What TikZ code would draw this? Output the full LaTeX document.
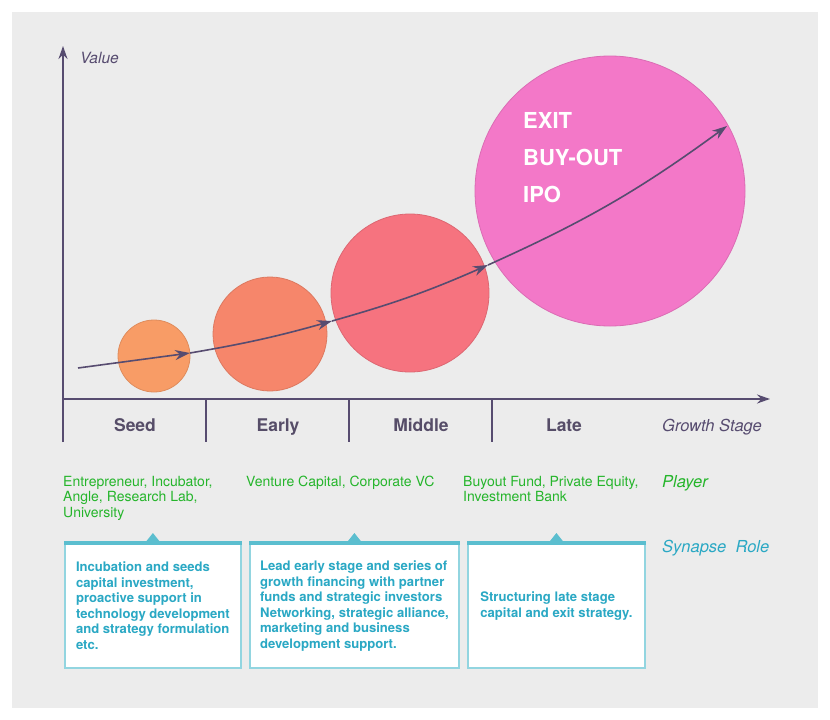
\documentclass[tikz,border=0pt]{standalone}
\usepackage{fontspec}
\setmainfont{TeX Gyre Heros}
\usetikzlibrary{positioning,arrows.meta}
\definecolor{panelgrey}{HTML}{ECECEC}
\definecolor{inkpurple}{HTML}{574C70}
\definecolor{stagegrey}{HTML}{564D68}
\definecolor{playergreen}{HTML}{25B52B}
\definecolor{roleteal}{HTML}{2AA8C4}
\definecolor{boxedge}{HTML}{92D5E0}
\definecolor{boxtop}{HTML}{5BBECF}
\definecolor{seedorange}{HTML}{F89C66}
\definecolor{earlysalmon}{HTML}{F6866B}
\definecolor{midrose}{HTML}{F6737F}
\definecolor{latepink}{HTML}{F378C8}
\tikzset{
  bub/.style={circle, fill=#1, draw=#1!90!black, line width=0.8pt, inner sep=0pt},
  axisline/.style={-{Stealth[length=13pt,width=9pt]}, line width=1.8pt, draw=inkpurple},
  divider/.style={line width=1.8pt, draw=inkpurple},
  flow/.style={-{Stealth[length=15pt,width=10pt]}, line width=1.6pt, draw=inkpurple},
  stage/.style={font=\fontsize{17.5}{20}\selectfont\bfseries, color=stagegrey, anchor=base, inner sep=0pt},
  axlbl/.style={font=\fontsize{16.5}{19}\selectfont\itshape, color=#1, anchor=base west, inner sep=0pt},
  player/.style={font=\fontsize{14}{15.5}\selectfont, color=playergreen, align=left,
                 anchor=north west, inner sep=0pt},
  rolebox/.style={rectangle, draw=boxedge, fill=white, line width=1.8pt, align=left,
                  inner sep=4pt, anchor=north west, minimum height=124pt,
                  font=\fontsize{13.1}{15.5}\selectfont\bfseries, text=roleteal},
  topbar/.style={line width=4pt, draw=boxtop},
}

\begin{document}
\begin{tikzpicture}[x=1pt, y=1pt]
  \useasboundingbox (0,0) rectangle (830,-720);
  \fill[white] (0,0) rectangle (830,-720);
  \fill[panelgrey] (12,-12) rectangle (818,-708);

  % bubbles
  \node[bub=seedorange, minimum size=72pt] (bseed) at (154,-356) {};
  \node[bub=earlysalmon, minimum size=114pt] (bearly) at (270,-334) {};
  \node[bub=midrose, minimum size=158pt] (bmid) at (410,-293) {};
  \node[bub=latepink, minimum size=270pt] (blate) at (610,-191) {};
  \node[font=\fontsize{22}{37}\selectfont\bfseries, color=white, align=left,
        anchor=north west, inner sep=0pt] (exitlbl) at (523,-112) {EXIT\\BUY-OUT\\IPO};

  % axes
  \coordinate (ybase) at (63,-442);
  \coordinate (ytip) at (63,-46);
  \coordinate (origin) at (63,-399);
  \coordinate (xtip) at (770,-399);
  \draw[axisline] (ybase) -- (ytip);
  \draw[axisline] (origin) -- (xtip);
  \draw[divider] (206,-399) -- (206,-442);
  \draw[divider] (349,-399) -- (349,-442);
  \draw[divider] (492,-399) -- (492,-442);
  \node[axlbl=inkpurple, font=\fontsize{15.5}{18}\selectfont\itshape] (vallbl) at (80,-63) {Value};
  \node[axlbl=inkpurple] (growlbl) at (662,-431) {Growth Stage};

  % value path
  \coordinate (f0) at (78,-368);
  \coordinate (f1) at (190,-353);
  \coordinate (f2) at (332,-321);
  \coordinate (f3) at (488,-265);
  \coordinate (f4) at (727,-126);
  \draw[flow] (f0) -- (f1);
  \draw[flow] (f1) to[bend right=3] (f2);
  \draw[flow] (f2) to[bend right=4] (f3);
  \draw[flow] (f3) to[bend right=6] (f4);

  % stages
  \node[stage] (sseed) at (135,-431) {Seed};
  \node[stage] (searly) at (278,-431) {Early};
  \node[stage] (smid) at (421,-431) {Middle};
  \node[stage] (slate) at (564,-431) {Late};

  % players
  \node[player] (pseed) at (63,-476) {Entrepreneur, Incubator,\\Angle, Research Lab,\\University};
  \node[player] (pearly) at (246,-476) {Venture Capital, Corporate VC};
  \node[player] (plate) at (463,-476) {Buyout Fund, Private Equity,\\Investment Bank};
  \node[axlbl=playergreen] (playlbl) at (662,-487) {Player};
  \node[axlbl=roleteal] (rolelbl) at (662,-552) {Synapse\ \ Role};

  % synapse role boxes
  \node[rolebox, minimum width=176pt] (rseed) at (64,-543)
       {Incubation and seeds\\capital investment,\\proactive support in\\technology development\\and strategy formulation\\etc.};
  \node[rolebox, minimum width=209pt] (rearly) at (249,-543)
       {Lead early stage and series of\\growth financing with partner\\funds and strategic investors\\Networking, strategic alliance,\\marketing and business\\development support.};
  \node[rolebox, minimum width=177pt] (rlate) at (467,-543)
       {Structuring late stage\\capital and exit strategy.};
  \draw[topbar] (rseed.north west) -- (rseed.north east);
  \draw[topbar] (rearly.north west) -- (rearly.north east);
  \draw[topbar] (rlate.north west) -- (rlate.north east);
  \fill[boxtop] ([xshift=-8pt]rseed.north) -- ([yshift=10pt]rseed.north) -- ([xshift=8pt]rseed.north) -- cycle;
  \fill[boxtop] ([xshift=-8pt]rearly.north) -- ([yshift=10pt]rearly.north) -- ([xshift=8pt]rearly.north) -- cycle;
  \fill[boxtop] ([xshift=-8pt]rlate.north) -- ([yshift=10pt]rlate.north) -- ([xshift=8pt]rlate.north) -- cycle;
\end{tikzpicture}
\end{document}
